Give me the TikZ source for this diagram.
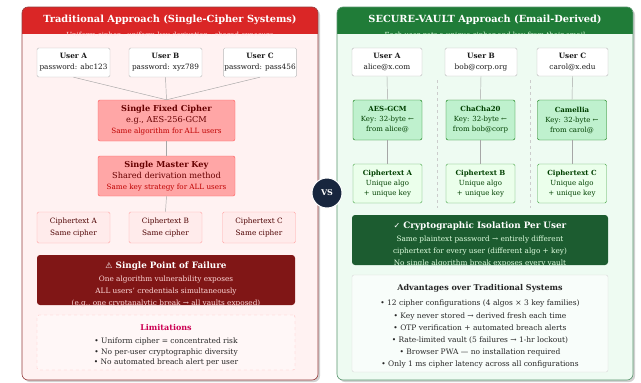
\documentclass[tikz,border=0pt]{standalone}
\usepackage{fontspec}
\setmainfont{DejaVu Serif}
\newfontfamily\symfont{DejaVu Sans}
\begin{document}
\begin{tikzpicture}[x=1pt,y=-1pt,
  every node/.style={align=center, inner sep=1pt},
  conn/.style={draw=gray!70, line width=0.45pt},
  ubox/.style={draw=gray!55, fill=white, rounded corners=1.5pt, minimum width=73pt, minimum height=29pt, font=\fontsize{7.3}{11}\selectfont, text=gray!20!black},
  redbox/.style={draw=red!65!white, fill=red!35!white, rounded corners=2pt, minimum width=137pt, minimum height=40pt, font=\fontsize{8.2}{11}\selectfont, text=red!40!black},
  ctred/.style={draw=red!35!white, fill=red!8!white, rounded corners=1.5pt, minimum width=73pt, minimum height=31pt, font=\fontsize{7.3}{12}\selectfont, text=red!30!black},
  grnbox/.style={draw=green!45!black, fill=green!55!teal!25!white, rounded corners=2pt, minimum width=69pt, minimum height=40pt, font=\fontsize{7}{10}\selectfont, text=green!25!black},
  ctgrn/.style={draw=green!50!black!70, fill=green!8!white, rounded corners=1.5pt, minimum width=69pt, minimum height=39pt, font=\fontsize{7}{10}\selectfont, text=green!25!black},
  ttl/.style={font=\fontsize{9.8}{11}\selectfont\bfseries, text=white},
  sub/.style={font=\fontsize{7}{8}\selectfont, text=white!90!red}
]
\definecolor{hdrred}{RGB}{218,38,38}
\definecolor{bodyred}{RGB}{255,242,242}
\definecolor{edgered}{RGB}{150,60,60}
\definecolor{hdrgrn}{RGB}{32,124,56}
\definecolor{bodygrn}{RGB}{238,251,242}
\definecolor{edgegrn}{RGB}{90,150,110}
\definecolor{failred}{RGB}{128,22,22}
\definecolor{isogrn}{RGB}{28,92,48}
\definecolor{vsnavy}{RGB}{24,38,62}

\useasboundingbox (0,0) rectangle (641,383);
\fill[white] (0,0) rectangle (641,383);

% ---------- left panel: single-cipher systems ----------
\fill[black!18, rounded corners=6pt] (24,9) rectangle (320,382);
\fill[bodyred, rounded corners=6pt] (22,7) rectangle (318,380);
\begin{scope}
  \clip[rounded corners=6pt] (22,7) rectangle (318,380);
  \fill[hdrred] (22,7) rectangle (318,34);
\end{scope}
\draw[edgered, line width=0.6pt, rounded corners=6pt] (22,7) rectangle (318,380);
\node[ttl] (ltitle) at (170,20) {Traditional Approach (Single-Cipher Systems)};
\begin{scope}
  \clip (22,7) rectangle (318,35);
  \node[sub] (lsub) at (170,35.5) {Uniform cipher · uniform key derivation · shared exposure};
\end{scope}

\node[ubox] (uA) at (73.5,62.5) {\textbf{User A}\\password: abc123};
\node[ubox] (uB) at (165.5,62.5) {\textbf{User B}\\password: xyz789};
\node[ubox] (uC) at (260,62.5) {\textbf{User C}\\password: pass456};

\node[redbox, minimum height=41pt] (cipher) at (166.5,120.5) {\textbf{Single Fixed Cipher}\\e.g., AES-256-GCM\\{\color{red!75!black}\fontsize{7.2}{9}\selectfont Same algorithm for ALL users}};
\node[redbox] (mkey) at (166.5,176) {\textbf{Single Master Key}\\Shared derivation method\\{\color{red!75!black}\fontsize{7.2}{9}\selectfont Same key strategy for ALL users}};

\node[ctred] (ctA) at (73.5,227.5) {Ciphertext A\\Same cipher};
\node[ctred] (ctB) at (165.5,227.5) {Ciphertext B\\Same cipher};
\node[ctred] (ctC) at (259,227.5) {Ciphertext C\\Same cipher};

\draw[conn] (uA.south) -- (cipher.north);
\draw[conn] (uB.south) -- (cipher.north);
\draw[conn] (uC.south) -- (cipher.north);
\draw[conn] (cipher.south) -- (mkey.north);
\draw[conn] (mkey.south) -- (ctB.north);

\node[fill=failred, rounded corners=3pt, minimum width=258pt, minimum height=50pt] (spof) at (166,280) {};
\node[font=\fontsize{8.8}{10}\selectfont\bfseries, text=white] (spoft) at (166,266) {{\symfont\fontsize{8}{9}\selectfont ⚠} Single Point of Failure};
\node[font=\fontsize{7.3}{12}\selectfont, text=red!15!white, anchor=north] (spofb) at (166,275) {One algorithm vulnerability exposes\\ALL users' credentials simultaneously\\(e.g., one cryptanalytic break → all vaults exposed)};

\node[draw=red!25!white, dashed, fill=red!3!white, rounded corners=2pt, minimum width=258pt, minimum height=55pt] (limits) at (166,342.5) {};
\node[font=\fontsize{8}{9}\selectfont\bfseries, text=red!60!magenta!80!black] (limt) at (166,328) {Limitations};
\node[font=\fontsize{7.5}{10.7}\selectfont, text=gray!30!black, anchor=north] (limb) at (166,336.5) {• Uniform cipher = concentrated risk\\• No per-user cryptographic diversity\\• No automated breach alert per user};

% ---------- right panel: email-derived ciphers ----------
\fill[black!18, rounded corners=6pt] (339,9) rectangle (635,382);
\fill[bodygrn, rounded corners=6pt] (337,7) rectangle (633,380);
\begin{scope}
  \clip[rounded corners=6pt] (337,7) rectangle (633,380);
  \fill[hdrgrn] (337,7) rectangle (633,34);
\end{scope}
\draw[edgegrn, line width=0.6pt, rounded corners=6pt] (337,7) rectangle (633,380);
\node[ttl] (rtitle) at (485,20) {SECURE-VAULT Approach (Email-Derived)};
\begin{scope}
  \clip (337,7) rectangle (633,35);
  \node[sub, text=white!90!green] (rsub) at (485,35.5) {Each user gets a unique cipher and key from their email};
\end{scope}

\coordinate (sep1a) at (437,80);
\coordinate (sep1b) at (437,208);
\coordinate (sep2a) at (530,80);
\coordinate (sep2b) at (530,208);
\draw[gray!40, dashed, line width=0.4pt] (sep1a) -- (sep1b);
\draw[gray!40, dashed, line width=0.4pt] (sep2a) -- (sep2b);

\node[ubox, minimum width=70pt, minimum height=28pt] (vA) at (387,62) {\textbf{User A}\\alice@x.com};
\node[ubox, minimum width=72pt, minimum height=28pt] (vB) at (481,62) {\textbf{User B}\\bob@corp.org};
\node[ubox, minimum width=71pt, minimum height=28pt] (vC) at (572.5,62) {\textbf{User C}\\carol@x.edu};

\node[grnbox] (gA) at (387.5,120) {\textbf{AES-GCM}\\Key: 32-byte ←\\from alice@};
\node[grnbox] (gB) at (480.5,120) {\textbf{ChaCha20}\\Key: 32-byte ←\\from bob@corp};
\node[grnbox] (gC) at (572,120) {\textbf{Camellia}\\Key: 32-byte ←\\from carol@};

\node[ctgrn] (xA) at (387.5,183.5) {\textbf{Ciphertext A}\\Unique algo\\+ unique key};
\node[ctgrn] (xB) at (480.5,183.5) {\textbf{Ciphertext B}\\Unique algo\\+ unique key};
\node[ctgrn] (xC) at (572,183.5) {\textbf{Ciphertext C}\\Unique algo\\+ unique key};

\draw[conn] (vA.south) -- (gA.north);
\draw[conn] (vB.south) -- (gB.north);
\draw[conn] (vC.south) -- (gC.north);
\draw[conn] (gA.south) -- (xA.north);
\draw[conn] (gB.south) -- (xB.north);
\draw[conn] (gC.south) -- (xC.north);

\node[fill=isogrn, rounded corners=3pt, minimum width=256pt, minimum height=50pt] (iso) at (480,240) {};
\node[font=\fontsize{8.8}{10}\selectfont\bfseries, text=white] (isot) at (480,226.5) {{\symfont\fontsize{8}{9}\selectfont ✓} Cryptographic Isolation Per User};
\node[font=\fontsize{7.3}{12.3}\selectfont, text=green!12!white, anchor=north] (isob) at (480,234.5) {Same plaintext password → entirely different\\ciphertext for every user (different algo + key)\\No single algorithm break exposes every vault};

\node[draw=gray!30, fill=white!60!bodygrn, rounded corners=2pt, minimum width=256pt, minimum height=97pt] (adv) at (480,323.5) {};
\node[font=\fontsize{8}{9}\selectfont\bfseries, text=gray!30!black] (advt) at (480,288) {Advantages over Traditional Systems};
\node[font=\fontsize{7.5}{12.2}\selectfont, text=gray!30!black, anchor=north] (advb) at (480,299) {• 12 cipher configurations (4 algos × 3 key families)\\• Key never stored → derived fresh each time\\• OTP verification + automated breach alerts\\• Rate-limited vault (5 failures → 1-hr lockout)\\• Browser PWA — no installation required\\• Only 1 ms cipher latency across all configurations};

% ---------- versus badge ----------
\node[circle, fill=vsnavy, draw=white, line width=1pt, minimum size=30pt, font=\fontsize{8}{9}\selectfont\bfseries, text=white] (vs) at (327,193) {VS};
\end{tikzpicture}
\end{document}
